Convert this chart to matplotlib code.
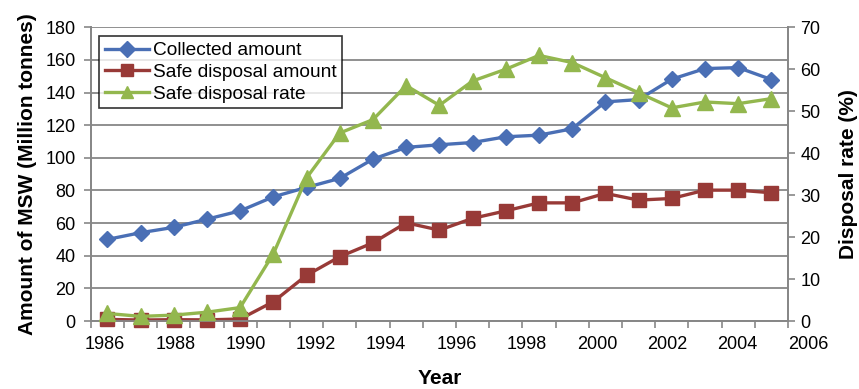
import matplotlib
matplotlib.use("Agg")
import matplotlib.pyplot as plt
from matplotlib.ticker import FixedLocator, NullFormatter

plt.rcParams['font.family'] = ['Liberation Sans', 'DejaVu Sans']

# MSW statistics, 1986-2006
years = list(range(1986, 2007))
collected = [50.0, 54.1, 57.4, 62.4, 67.5, 76.1, 81.9, 87.4, 99.2, 106.4,
             108.0, 109.4, 112.9, 113.9, 117.8, 134.3, 135.7, 148.2, 154.7, 155.3, 148.0]
safe_amount = [1.0, 0.6, 0.8, 0.7, 1.2, 11.8, 28.0, 39.4, 47.9, 60.2,
               55.7, 62.9, 67.5, 72.4, 72.4, 78.2, 74.1, 75.1, 80.2, 80.2, 78.6]
safe_rate = [1.8, 1.1, 1.4, 2.1, 3.2, 16.0, 34.1, 44.8, 48.0, 56.1,
             51.4, 57.2, 60.0, 63.3, 61.6, 58.0, 54.4, 50.8, 52.2, 51.8, 53.0]
year_labels = list(range(1986, 2007, 2))

BLUE = '#4A6FB5'
RED = '#983A37'
GREEN = '#93B74E'
GRID = '#878787'
TICK_FS = 13
LABEL_PAD = 11

fig = plt.figure(figsize=(8.59, 3.89), dpi=100)
ax = fig.add_axes([0.1056, 0.1748, 0.8117, 0.755])

l1, = ax.plot(years, collected, color=BLUE, lw=2.4, marker='D', ms=8,
              mfc=BLUE, mec=BLUE, label='Collected amount', clip_on=False, zorder=3)
l2, = ax.plot(years, safe_amount, color=RED, lw=2.4, marker='s', ms=10,
              mfc=RED, mec=RED, label='Safe disposal amount', clip_on=False, zorder=3)

ax2 = ax.twinx()
ax2.set_position(ax.get_position())
l3, = ax2.plot(years, safe_rate, color=GREEN, lw=2.4, marker='^', ms=11,
               mfc=GREEN, mec=GREEN, label='Safe disposal rate', clip_on=False, zorder=3)

# left axis
ax.set_ylim(0, 180)
ax.set_yticks(range(0, 181, 20))
ax.yaxis.grid(True, color=GRID, lw=1.3)
ax.set_axisbelow(True)
ax.tick_params(axis='y', direction='out', length=5, width=1.2, color=GRID,
               labelsize=TICK_FS, pad=6)
ax.set_ylabel('Amount of MSW (Million tonnes)', fontsize=15, fontweight='bold', labelpad=6)

# right axis
ax2.set_ylim(0, 70)
ax2.set_yticks(range(0, 71, 10))
ax2.tick_params(axis='y', direction='out', length=5, width=1.2, color=GRID,
                labelsize=TICK_FS, pad=4)
ax2.set_ylabel('Disposal rate (%)', fontsize=15, fontweight='bold', labelpad=13)

# x axis: category boundary ticks
ax.set_xlim(years[0] - 0.5, years[-1] + 0.5)
ax.xaxis.set_major_locator(FixedLocator([y - 0.5 for y in years] + [years[-1] + 0.5]))
ax.xaxis.set_major_formatter(NullFormatter())
ax.tick_params(axis='x', direction='out', length=5, width=1.2, color=GRID)

for a in (ax, ax2):
    a.spines['top'].set_visible(False)
    for side in ('left', 'right', 'bottom'):
        a.spines[side].set_color(GRID)
        a.spines[side].set_linewidth(1.3)

# year labels on their own scale along the bottom
axl = ax.twiny()
axl.set_position(ax.get_position())
axl.set_xlim(1985.593, 2005.43)
axl.xaxis.set_ticks_position('bottom')
axl.xaxis.set_label_position('bottom')
inside = [y for y in year_labels if y <= 2005]
axl.set_xticks(inside)
axl.set_xticklabels([str(y) for y in inside])
axl.tick_params(axis='x', length=0, labelsize=TICK_FS, pad=LABEL_PAD)
for s in axl.spines.values():
    s.set_visible(False)
for y in year_labels:
    if y > 2005:
        axl.annotate(str(y), xy=(y, 0), xycoords=axl.get_xaxis_transform(),
                     xytext=(0, -LABEL_PAD), textcoords='offset points',
                     ha='center', va='top', fontsize=TICK_FS, annotation_clip=False)
axl.set_xlabel('Year', fontsize=15, fontweight='bold', labelpad=11)

leg = ax2.legend(handles=[l1, l2, l3], loc='upper left',
                 bbox_to_anchor=(0.0125, 0.97), fontsize=13.8, frameon=True,
                 fancybox=False, edgecolor='black', handlelength=2.3,
                 handletextpad=0.2, borderpad=0.3, labelspacing=0.22,
                 borderaxespad=0.0)
leg.get_frame().set_linewidth(1.2)
for h in leg.legend_handles:
    h.set_markersize(8)

fig.savefig('out.png', dpi=100)
